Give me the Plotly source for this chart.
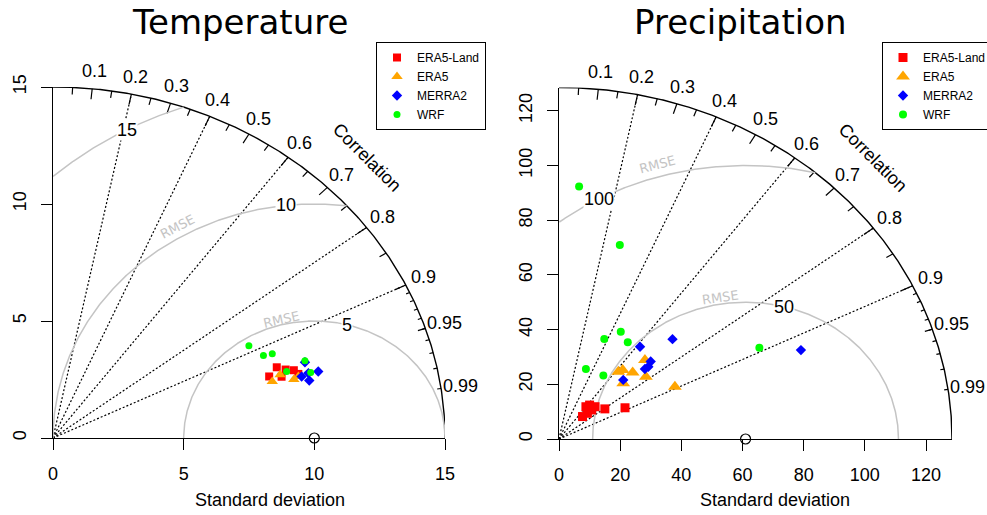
import numpy as np
import plotly.graph_objects as go

W, H = 987, 515

# ---------------- data ----------------
series_names = ["ERA5-Land", "ERA5", "MERRA2", "WRF"]

# Temperature panel: standard deviation and correlation of each series
temp_title = "Temperature"
temp_ref_sd = 10.0
temp_max_sd = 15.0
temp_sd_ticks = [0, 5, 10, 15]
temp_rmse_levels = [5, 10, 15]
temp_era5land_sd = [9.08, 9.37, 9.66, 8.68, 9.78, 9.13]
temp_era5land_cor = [0.943, 0.950, 0.954, 0.953, 0.960, 0.958]
temp_era5_sd = [8.73, 9.10, 9.55, 9.75]
temp_era5_cor = [0.961, 0.955, 0.965, 0.963]
temp_merra2_sd = [10.17, 10.16, 10.54, 10.11, 9.87]
temp_merra2_cor = [0.948, 0.962, 0.963, 0.970, 0.964]
temp_wrf_sd = [8.47, 8.79, 9.13, 10.19, 9.38, 10.25]
temp_wrf_cor = [0.885, 0.916, 0.919, 0.946, 0.953, 0.962]

# Precipitation panel
prec_title = "Precipitation"
prec_ref_sd = 61.0
prec_max_sd = 128.5
prec_sd_ticks = [0, 20, 40, 60, 80, 100, 120]
prec_rmse_levels = [50, 100]
prec_era5land_sd = [11.25, 13.22, 15.06, 14.72, 16.69, 18.60, 24.42, 15.93]
prec_era5land_cor = [0.684, 0.703, 0.710, 0.598, 0.707, 0.806, 0.884, 0.628]
prec_era5_sd = [40.31, 31.33, 32.68, 34.22, 29.28, 36.42, 42.44]
prec_era5_cor = [0.697, 0.619, 0.637, 0.704, 0.717, 0.780, 0.893]
prec_merra2_sd = [42.87, 52.05, 41.24, 39.37, 38.01, 30.13, 85.52]
prec_merra2_cor = [0.618, 0.713, 0.727, 0.742, 0.739, 0.697, 0.925]
prec_wrf_sd = [92.53, 73.64, 39.48, 44.10, 41.95, 27.07, 27.36, 73.53]
prec_wrf_cor = [0.071, 0.270, 0.375, 0.458, 0.536, 0.325, 0.530, 0.891]

# correlation scale
cor_major = [0.1, 0.2, 0.3, 0.4, 0.5, 0.6, 0.7, 0.8, 0.9]
cor_labels = cor_major + [0.95, 0.99]
cor_medium = [0.05, 0.15, 0.25, 0.35, 0.45, 0.55, 0.65, 0.75, 0.85, 0.95]
cor_minor = [0.91, 0.92, 0.93, 0.94, 0.95, 0.96, 0.97, 0.98, 0.99]
cor_lines = [0.2, 0.4, 0.6, 0.8, 0.9]

# ---------------- styles ----------------
colors = ["#FF0000", "#FFA500", "#0000FF", "#00FF00"]
symbols = ["square", "triangle-up", "diamond", "circle"]
temp_sizes = [8, 10, 8, 7]
prec_sizes = [9, 12, 8, 8]
SANS = "Liberation Sans, Arial, Helvetica, sans-serif"
DJV = "DejaVu Sans, sans-serif"
RMSE_GRAY = "#C4C4C4"

# pixel placement of the two panels: (left px of 0, right px of max, bottom px of 0, top px of max)
temp_px = (53, 445, 438, 87)
prec_px = (559, 952, 439, 87.5)

fig = go.Figure()


def panel(idx, maxsd, ref_sd, sd_ticks, rmse_levels, sds, cors, sizes, px, rmse_lab_angles, legend_name):
    xa = "x" if idx == 1 else "x2"
    ya = "y" if idx == 1 else "y2"
    axn = "" if idx == 1 else "2"
    x0, x1, y0, y1 = px
    sx = (x1 - x0) / maxsd
    sy = (y0 - y1) / maxsd
    common = dict(xaxis=xa, yaxis=ya, hoverinfo="skip", showlegend=False)

    def to_paper(x, y):
        return (x0 + x * sx) / W, 1 - (y0 - y * sy) / H

    def label(x, y, text, **kw):
        px_, py_ = to_paper(x, y)
        fig.add_annotation(x=px_, y=py_, xref="paper", yref="paper", text=text, showarrow=False,
                           xanchor="center", yanchor="middle", **kw)

    # outer arc
    th = np.linspace(0, np.pi / 2, 300)
    fig.add_trace(go.Scatter(x=maxsd * np.cos(th), y=maxsd * np.sin(th), mode="lines",
                             line=dict(color="black", width=1.4), **common))
    # correlation ticks on the arc
    tx, ty = [], []
    for vals, frac in ((cor_major, 0.97), (cor_medium, 0.98), (cor_minor, 0.99)):
        for c in vals:
            a = np.arccos(c)
            tx += [maxsd * np.cos(a), frac * maxsd * np.cos(a), None]
            ty += [maxsd * np.sin(a), frac * maxsd * np.sin(a), None]
    fig.add_trace(go.Scatter(x=tx, y=ty, mode="lines", line=dict(color="black", width=1.2), **common))
    # dotted correlation lines
    lx, ly = [], []
    for c in cor_lines:
        lx += [0, maxsd * c, None]
        ly += [0, maxsd * np.sqrt(1 - c * c), None]
    fig.add_trace(go.Scatter(x=lx, y=ly, mode="lines",
                             line=dict(color="black", width=1.2, dash="2px,2px"), **common))
    # RMSE arcs around the reference point
    lp = np.linspace(45, 70, len(rmse_levels)).astype(int)
    for gi, g in enumerate(rmse_levels):
        t = np.linspace(0, np.pi, 800)
        xc = ref_sd + g * np.cos(t)
        yc = g * np.sin(t)
        m = (xc >= 0) & (xc ** 2 + yc ** 2 <= maxsd ** 2)
        fig.add_trace(go.Scatter(x=xc[m], y=yc[m], mode="lines",
                                 line=dict(color=RMSE_GRAY, width=1.5), **common))
        tl = (lp[gi] - 1) * 0.03
        label(ref_sd + g * np.cos(tl), g * np.sin(tl), str(g), bgcolor="white", borderpad=0,
              font=dict(family=SANS, size=18, color="black"))
        if g in rmse_lab_angles:
            ang = np.deg2rad(rmse_lab_angles[g])
            r = g * 1.045
            rot = np.degrees(np.arctan2(np.cos(ang) * sy, np.sin(ang) * sx))
            label(ref_sd + r * np.cos(ang), r * np.sin(ang), "RMSE", textangle=rot,
                  font=dict(family=DJV, size=13, color=RMSE_GRAY))
    # correlation labels
    for c in cor_labels:
        a = np.arccos(c)
        label(1.05 * maxsd * np.cos(a), 1.05 * maxsd * np.sin(a), f"{c:g}",
              font=dict(family=SANS, size=18, color="black"))
    label(0.8 * maxsd, 0.8 * maxsd, "Correlation", textangle=45,
          font=dict(family=SANS, size=18, color="black"))
    # reference point
    fig.add_trace(go.Scatter(x=[ref_sd], y=[0], mode="markers", cliponaxis=False,
                             marker=dict(symbol="circle-open", size=10, color="black", line=dict(width=1.2)),
                             **common))
    # series
    for name, sd, cr, col, sym, sz in zip(series_names, sds, cors, colors, symbols, sizes):
        sd = np.array(sd)
        cr = np.array(cr)
        fig.add_trace(go.Scatter(x=sd * cr, y=sd * np.sqrt(1 - cr ** 2), mode="markers", name=name,
                                 marker=dict(symbol=sym, size=sz, color=col, line=dict(width=0)),
                                 xaxis=xa, yaxis=ya, hoverinfo="skip", legend=legend_name, cliponaxis=False))

    axis_common = dict(showgrid=False, zeroline=False, showline=True, linecolor="black", linewidth=1.3,
                       ticks="outside", ticklen=11, tickwidth=1.3, tickcolor="black",
                       tickfont=dict(family=SANS, size=18, color="black"), fixedrange=True)
    fig.update_layout(**{
        "xaxis" + axn: dict(range=[0, maxsd], domain=[x0 / W, x1 / W], tickvals=sd_ticks,
                            anchor=ya, ticklabelstandoff=8, **axis_common),
        "yaxis" + axn: dict(range=[0, maxsd], domain=[(H - y0) / H, (H - y1) / H], tickvals=sd_ticks,
                            tickangle=-90, anchor=xa, ticklabelstandoff=8, **axis_common),
    })


panel(1, temp_max_sd, temp_ref_sd, temp_sd_ticks, temp_rmse_levels,
      [temp_era5land_sd, temp_era5_sd, temp_merra2_sd, temp_wrf_sd],
      [temp_era5land_cor, temp_era5_cor, temp_merra2_cor, temp_wrf_cor],
      temp_sizes, temp_px, {5: 104, 10: 120}, "legend")
panel(2, prec_max_sd, prec_ref_sd, prec_sd_ticks, prec_rmse_levels,
      [prec_era5land_sd, prec_era5_sd, prec_merra2_sd, prec_wrf_sd],
      [prec_era5land_cor, prec_era5_cor, prec_merra2_cor, prec_wrf_cor],
      prec_sizes, prec_px, {50: 99, 100: 106}, "legend2")

# titles and axis titles
for txt, cx in ((temp_title, 240), (prec_title, 740)):
    fig.add_annotation(x=cx / W, y=1 - 22 / H, xref="paper", yref="paper", text=txt, showarrow=False,
                       xanchor="center", yanchor="middle",
                       font=dict(family=DJV, size=34, color="black"))
for cx in (270, 775):
    fig.add_annotation(x=cx / W, y=1 - 500 / H, xref="paper", yref="paper", text="Standard deviation",
                       showarrow=False, xanchor="center", yanchor="middle",
                       font=dict(family=SANS, size=18, color="black"))

leg_common = dict(xanchor="left", yanchor="top", bordercolor="black", borderwidth=1, bgcolor="white",
                  font=dict(family=SANS, size=12, color="black"), traceorder="normal")
fig.update_layout(
    width=W, height=H, margin=dict(l=0, r=0, t=0, b=0, autoexpand=False),
    paper_bgcolor="white", plot_bgcolor="white", hovermode=False,
    legend=dict(x=376 / W, y=1 - 42 / H, **leg_common),
    legend2=dict(x=882 / W, y=1 - 42 / H, **leg_common),
)

fig.write_html("out.html", config={"displayModeBar": False},
               post_script="document.body.style.margin='0px';")
